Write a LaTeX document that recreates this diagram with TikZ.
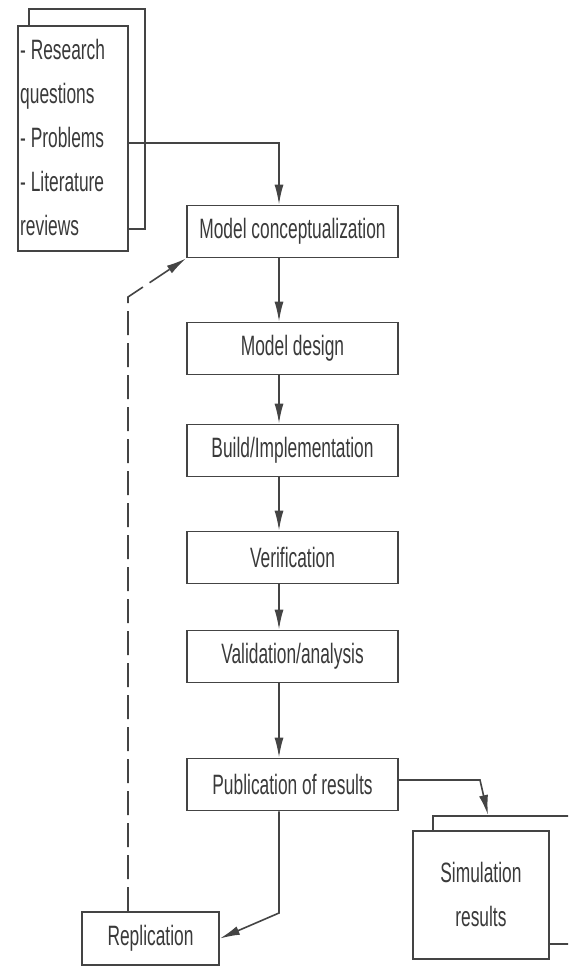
\documentclass[tikz,border=0pt]{standalone}
\usepackage{fontspec}
\setmainfont{Liberation Sans}[FakeStretch=0.62]
\usetikzlibrary{arrows.meta}
\definecolor{ln}{HTML}{444444}
\definecolor{tx}{HTML}{3A3A3A}
\tikzset{
  box/.style={draw=ln, line width=1.8pt, fill=white, inner sep=0pt, text=tx,
    font=\fontsize{28}{44}\selectfont},
  stepbox/.style={box, minimum width=211pt, minimum height=52pt},
  back/.style={draw=ln, line width=1.8pt, fill=white},
  conn/.style={draw=ln, line width=1.6pt, -{Latex[length=20pt,width=9pt]}},
}
\begin{document}
\begin{tikzpicture}[x=1pt,y=-1pt]
\clip (0,0) rectangle (568,972);
\fill[white] (0,0) rectangle (568,972);
% research stack
\node[back, minimum width=116pt, minimum height=220pt, anchor=north west, inner sep=0pt] (resback) at (28,8) {};
\node[box, minimum width=110pt, minimum height=225pt, anchor=north west] (res) at (17,25) {};
\node[anchor=west, align=left, text=tx, inner sep=0pt, font=\fontsize{28}{44}\selectfont] (restext) at (20,137)
  {- Research\\questions\\- Problems\\- Literature\\reviews};
% main chain
\node[stepbox] (mc) at (292.5,231.5) {Model conceptualization};
\node[stepbox] (md) at (292.5,348.5) {Model design};
\node[stepbox] (bi) at (292.5,450.5) {Build/Implementation};
\node[stepbox] (ver) at (292.5,557.5) {Verification};
\node[stepbox] (val) at (292.5,656.5) {Validation/analysis};
\node[stepbox] (pub) at (292.5,784.5) {Publication of results};
% simulation stack
\node[back, minimum width=150pt, minimum height=128pt, anchor=north west, inner sep=0pt] (simback) at (432,815) {};
\node[box, minimum width=136pt, minimum height=128pt, anchor=north west, align=center] (sim) at (412,830) {Simulation\\results};
% replication
\node[box, minimum width=137pt, minimum height=53pt] (rep) at (150.5,938.5) {Replication};
% coordinates
\coordinate (c1) at (279,143);
\coordinate (c2) at (480,780);
\coordinate (c3) at (279,913);
\coordinate (c4) at (128,297);
% connectors
\draw[conn] (res.east |- c1) -- (c1) -- (c1 |- mc.north);
\foreach \a/\b in {mc/md, md/bi, bi/ver, ver/val, val/pub}
  \draw[conn] (\a.south -| c1) -- (\b.north -| c1);
\draw[conn] (pub.east |- c2) -- (c2) -- (488,815);
\draw[conn] (pub.south -| c3) -- (c3) -- (rep.east);
\draw[conn, dash pattern=on 24pt off 8pt] (rep.north -| c4) -- (c4) -- (mc.south west);
\end{tikzpicture}
\end{document}
